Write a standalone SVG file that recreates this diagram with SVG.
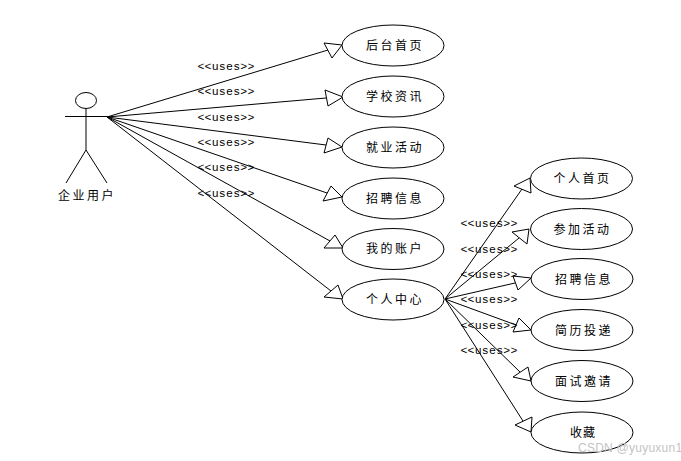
<svg xmlns="http://www.w3.org/2000/svg" width="681" height="461" viewBox="0 0 681 461">
<style>
.s{fill:none;stroke:#000;stroke-width:1}
.e{fill:#fff;stroke:#000;stroke-width:1}
.h{fill:#fff;stroke:#000;stroke-width:1}
.t{font-family:"Noto Sans CJK SC","Liberation Sans",sans-serif;font-size:12px;letter-spacing:2.500px;fill:#000;text-anchor:middle}
.u{font-family:"Liberation Mono",monospace;font-size:11.500px;letter-spacing:.25px;fill:#000;text-anchor:middle}
.w{font-family:"Liberation Sans",sans-serif;font-size:12px;letter-spacing:.25px;fill:#c4c4c4}
</style>
<rect width="681" height="461" fill="#fff"/>
<g id="connectors">
<path class="s" d="M107 117L328 50M107 117L326 98M107 117L326 145M107 117L327 193M107 117L330 241M107 117L331 291"/>
<path class="s" d="M445 299L522 189M445 299L519 238M445 299L515 283M445 299L516 325M445 299L520 372M445 299L523 421"/>
<polygon class="h" points="342,45 324,43 332,58"/>
<polygon class="h" points="343,97 325,90 328,106"/>
<polygon class="h" points="342,147 328,138 324,153"/>
<polygon class="h" points="342,197 331,186 323,201"/>
<polygon class="h" points="343,248 335,235 324,248"/>
<polygon class="h" points="343,299 338,285 324,297"/>
<polygon class="h" points="530,178 514,186 531,193"/>
<polygon class="h" points="529,229 512,232 527,244"/>
<polygon class="h" points="531,278 513,276 518,290"/>
<polygon class="h" points="531,330 519,318 513,332"/>
<polygon class="h" points="531,381 528,367 513,377"/>
<polygon class="h" points="531,432 532,417 515,425"/>
</g>
<g id="actor">
<ellipse class="s" cx="86" cy="100.500" rx="10.500" ry="8"/>
<path class="s" d="M65 116.500H107M86 108.500V150M86 150L66 183M86 150L107 183"/>
<text class="t" x="87" y="200">企业用户</text>
</g>
<g id="labels">
<text class="u" x="226" y="70">&lt;&lt;uses&gt;&gt;</text>
<text class="u" x="226" y="95">&lt;&lt;uses&gt;&gt;</text>
<text class="u" x="226" y="121">&lt;&lt;uses&gt;&gt;</text>
<text class="u" x="226" y="146">&lt;&lt;uses&gt;&gt;</text>
<text class="u" x="226" y="171">&lt;&lt;uses&gt;&gt;</text>
<text class="u" x="226" y="197">&lt;&lt;uses&gt;&gt;</text>
<text class="u" x="489" y="227">&lt;&lt;uses&gt;&gt;</text>
<text class="u" x="489" y="253">&lt;&lt;uses&gt;&gt;</text>
<text class="u" x="489" y="278">&lt;&lt;uses&gt;&gt;</text>
<text class="u" x="489" y="303">&lt;&lt;uses&gt;&gt;</text>
<text class="u" x="489" y="329">&lt;&lt;uses&gt;&gt;</text>
<text class="u" x="489" y="354">&lt;&lt;uses&gt;&gt;</text>
</g>
<g id="n1"><ellipse class="e" cx="393" cy="45.500" rx="51" ry="20.500"/><text class="t" x="395" y="50">后台首页</text></g>
<g id="n2"><ellipse class="e" cx="393" cy="96.500" rx="51" ry="20.500"/><text class="t" x="395" y="101">学校资讯</text></g>
<g id="n3"><ellipse class="e" cx="393" cy="147.500" rx="51" ry="20.500"/><text class="t" x="395" y="152">就业活动</text></g>
<g id="n4"><ellipse class="e" cx="393" cy="198.500" rx="51" ry="20.500"/><text class="t" x="395" y="203">招聘信息</text></g>
<g id="n5"><ellipse class="e" cx="393" cy="249" rx="51" ry="20.500"/><text class="t" x="395" y="253">我的账户</text></g>
<g id="n6"><ellipse class="e" cx="393" cy="299.500" rx="51" ry="20.500"/><text class="t" x="395" y="304">个人中心</text></g>
<g id="m1"><ellipse class="e" cx="581.500" cy="178.500" rx="51" ry="20.500"/><text class="t" x="582.500" y="183">个人首页</text></g>
<g id="m2"><ellipse class="e" cx="581.500" cy="229" rx="51" ry="20.500"/><text class="t" x="582.500" y="234">参加活动</text></g>
<g id="m3"><ellipse class="e" cx="582" cy="279" rx="51" ry="20.500"/><text class="t" x="584" y="284">招聘信息</text></g>
<g id="m4"><ellipse class="e" cx="582" cy="330" rx="51" ry="20.500"/><text class="t" x="584" y="335">简历投递</text></g>
<g id="m5"><ellipse class="e" cx="582" cy="381" rx="51" ry="20.500"/><text class="t" x="584" y="386">面试邀请</text></g>
<g id="m6"><ellipse class="e" cx="582" cy="432.500" rx="51" ry="20.500"/><text class="t" x="583" y="437" style="letter-spacing:1px">收藏</text></g>
<text class="w" x="578" y="452">CSDN @yuyuxun1</text>
</svg>
